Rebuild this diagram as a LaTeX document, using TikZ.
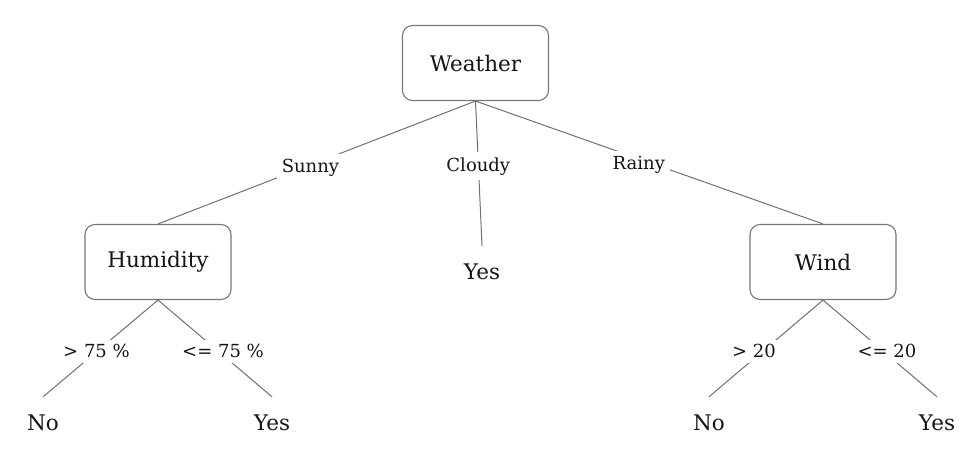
\documentclass[tikz,border=0pt]{standalone}
\usepackage{fontspec}
\setmainfont{DejaVu Serif}
\definecolor{edgegray}{HTML}{707070}
\definecolor{boxgray}{HTML}{777777}
\definecolor{inkblack}{HTML}{141414}
\tikzset{
  decision/.style={draw=boxgray, line width=1.1pt, rounded corners=10pt,
    minimum width=146pt, minimum height=75pt, text=inkblack,
    font=\fontsize{21.5}{24}\selectfont},
  leaf/.style={minimum height=52pt, inner sep=0pt, text=inkblack,
    font=\fontsize{21.5}{24}\selectfont},
  branch/.style={fill=white, inner sep=5pt, yshift=-3pt, text=inkblack,
    font=\fontsize{18}{20}\selectfont},
  edge/.style={draw=edgegray, line width=1pt}
}
\begin{document}
\begin{tikzpicture}[x=1pt, y=-1pt]
      \useasboundingbox (0,0) rectangle (972,471);
      \draw
        (475.5,63) node[decision] (weather){Weather}
        (158,262) node[decision] (humidity){Humidity}
        (823,262) node[decision] (wind){Wind}
        (482,272) node[leaf] (yes0){Yes}
        (43,423) node[leaf] (no1){No}
        (272,423) node[leaf] (yes1){Yes}
        (709,423) node[leaf] (no2){No}
        (937,423) node[leaf] (yes2){Yes};
      \begin{scope}[edge]
        \draw (weather.south) -- node[branch, pos=0.52] (sunny){Sunny} (humidity.north);
        \draw (weather.south) -- node[branch, pos=0.43] (cloudy){Cloudy} (yes0.north);
        \draw (weather.south) -- node[branch, pos=0.47, yshift=-3pt] (rainy){Rainy} (wind.north);
        \draw (humidity.south) -- node[branch, xshift=-4pt] (hhigh){> 75 \%} (no1.north);
        \draw (humidity.south) -- node[branch, xshift=8pt] (hlow){<= 75 \%} (yes1.north);
        \draw (wind.south) -- node[branch, xshift=-12pt] (whigh){> 20} (no2.north);
        \draw (wind.south) -- node[branch, xshift=7pt] (wlow){<= 20} (yes2.north);
      \end{scope}
    \end{tikzpicture}
\end{document}
